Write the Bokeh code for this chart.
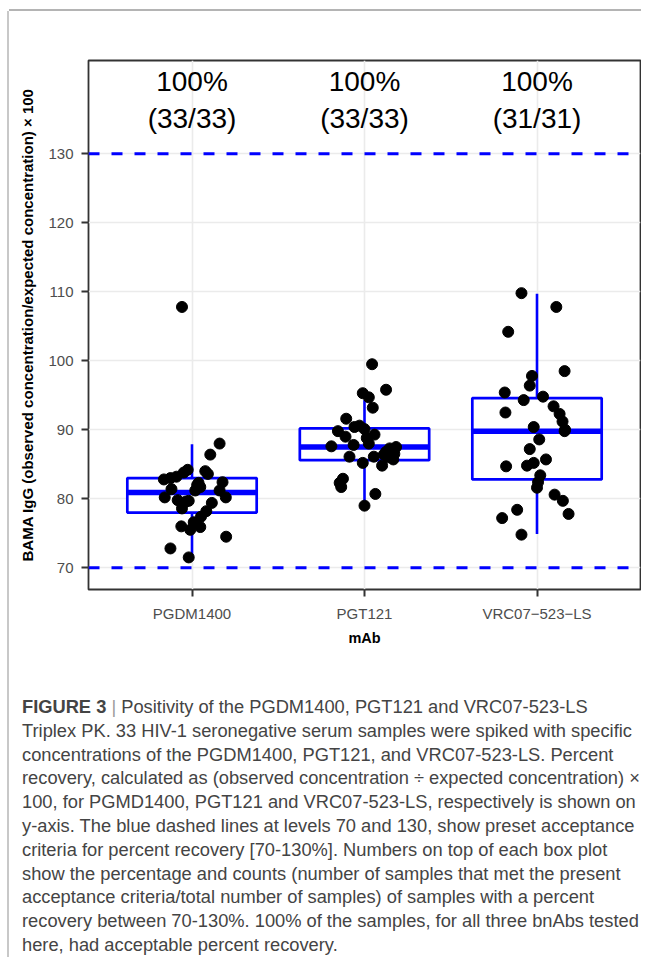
import numpy as np
from bokeh.plotting import figure
from bokeh.models import Range1d, Span, Div, FixedTicker, ColumnDataSource
from bokeh.layouts import column
from bokeh.core.properties import value
from bokeh.embed import file_html
from bokeh.resources import INLINE

# ---------------- data ----------------
categories = ["PGDM1400", "PGT121", "VRC07\u2212523\u2212LS"]

pgdm_values = [107.8, 88.0, 86.4, 84.2, 83.8, 83.2, 83.0, 82.8, 84.0, 83.6, 82.4,
               82.3, 81.7, 81.4, 81.2, 81.2, 80.2, 80.2, 79.8, 79.7, 79.4, 78.6,
               78.2, 77.4, 76.6, 76.0, 75.5, 75.9, 74.5, 72.8, 71.5, 82.0, 79.6]
pgdm_jitter = [-0.058, 0.160, 0.106, -0.025, -0.048, -0.090, -0.125, -0.163, 0.077, 0.092, 0.177,
               0.038, 0.048, -0.119, 0.019, 0.160, -0.158, 0.196, -0.083, -0.019, 0.115, -0.058,
               0.083, 0.052, 0.010, -0.062, -0.010, 0.048, 0.198, -0.125, -0.019, 0.030, -0.035]

pgt_values = [99.5, 95.8, 95.3, 94.7, 93.2, 91.6, 89.8, 90.4, 90.6, 90.1, 89.3,
              89.0, 88.8, 88.0, 87.8, 87.6, 87.5, 87.1, 86.8, 86.5, 86.0, 86.1,
              86.1, 85.7, 85.2, 84.8, 82.9, 82.3, 81.7, 80.7, 79.0, 87.3, 86.4]
pgt_jitter = [0.044, 0.125, -0.010, 0.025, 0.048, -0.106, -0.154, -0.058, -0.029, 0.000, 0.058,
              -0.110, 0.013, 0.025, -0.063, -0.192, 0.183, 0.154, 0.125, 0.173, 0.135, -0.087,
              0.054, 0.167, -0.010, 0.102, -0.125, -0.144, -0.135, 0.063, 0.000, 0.146, 0.112]

vrc_values = [109.8, 107.8, 104.2, 98.5, 97.8, 96.4, 95.4, 94.3, 94.8, 93.4, 92.3,
              92.5, 91.2, 90.0, 90.4, 88.6, 87.2, 85.7, 84.7, 84.8, 85.2, 83.4,
              82.4, 81.6, 80.6, 79.7, 77.8, 77.2, 78.4, 74.8, 89.8]
vrc_jitter = [-0.090, 0.112, -0.167, 0.160, -0.029, -0.042, -0.187, -0.077, 0.035, 0.096, 0.131,
              -0.183, 0.148, 0.163, -0.019, 0.013, -0.042, 0.052, -0.179, -0.058, -0.019, 0.019,
              0.006, 0.000, 0.102, 0.150, 0.183, -0.202, -0.115, -0.090, 0.160]

box_q1 = [78.0, 85.6, 82.8]
box_median = [80.9, 87.5, 89.8]
box_q3 = [83.0, 90.2, 94.6]
whisker_low = [71.5, 79.0, 74.9]
whisker_high = [87.9, 94.3, 109.7]

pct_labels = ["100%", "100%", "100%"]
count_labels = ["(33/33)", "(33/33)", "(31/31)"]
acceptance_limits = [70, 130]

caption_lines = [
    "<b>FIGURE 3</b> <span style='color:#9a9a9a'>|</span> Positivity of the PGDM1400, PGT121 and VRC07-523-LS",
    "Triplex PK. 33 HIV-1 seronegative serum samples were spiked with specific",
    "concentrations of the PGDM1400, PGT121, and VRC07-523-LS. Percent",
    "recovery, calculated as (observed concentration \u00f7 expected concentration) \u00d7",
    "100, for PGMD1400, PGT121 and VRC07-523-LS, respectively is shown on",
    "y-axis. The blue dashed lines at levels 70 and 130, show preset acceptance",
    "criteria for percent recovery [70-130%]. Numbers on top of each box plot",
    "show the percentage and counts (number of samples that met the present",
    "acceptance criteria/total number of samples) of samples with a percent",
    "recovery between 70-130%. 100% of the samples, for all three bnAbs tested",
    "here, had acceptable percent recovery.",
]

# ---------------- layout / style ----------------
FONT = "Liberation Sans"
BLUE = "#0000ff"
box_width = 0.75
label_y_top = 140.5
label_y_bottom = 135.1

xs = np.arange(1, len(categories) + 1)

p = figure(width=632, height=684, output_backend="svg", toolbar_location=None,
           title=None, x_range=Range1d(0.4, 3.6), y_range=Range1d(66.85, 143.52),
           min_border_left=79, min_border_right=1, min_border_top=49,
           min_border_bottom=106)

p.background_fill_color = "white"
p.border_fill_color = "white"
p.outline_line_color = "#333333"
p.outline_line_width = 1.8

# axes
p.xaxis.ticker = FixedTicker(ticks=list(xs))
p.xaxis.major_label_overrides = {int(i): c for i, c in zip(xs, categories)}
p.yaxis.ticker = FixedTicker(ticks=[70, 80, 90, 100, 110, 120, 130])
for ax in (p.xaxis, p.yaxis):
    ax.axis_line_color = None
    ax.major_tick_line_color = "#333333"
    ax.major_tick_line_width = 2
    ax.major_tick_out = 7
    ax.major_tick_in = 0
    ax.minor_tick_line_color = None
    ax.major_label_text_font = FONT
    ax.major_label_text_font_size = "15px"
    ax.major_label_text_color = "#4d4d4d"
    ax.axis_label_text_font = FONT
    ax.axis_label_text_font_style = "bold"
    ax.axis_label_text_color = "black"
p.xaxis.axis_label = "mAb"
p.xaxis.axis_label_text_font_size = "14.5px"
p.xaxis.major_label_standoff = 8
p.xaxis.axis_label_standoff = 5
p.yaxis.axis_label = "BAMA IgG (observed concentration/expected concentration) \u00d7 100"
p.yaxis.axis_label_text_font_size = "15px"
p.yaxis.major_label_standoff = 8
p.yaxis.axis_label_standoff = 9

p.grid.grid_line_color = "#ebebeb"
p.grid.grid_line_width = 1.6

# boxes
box_src = ColumnDataSource(dict(
    x=xs, q1=box_q1, q3=box_q3, med=box_median, lo=whisker_low, hi=whisker_high,
    left=xs - box_width / 2, right=xs + box_width / 2))
p.segment(x0="x", y0="q3", x1="x", y1="hi", source=box_src, line_color=BLUE, line_width=2.6)
p.segment(x0="x", y0="q1", x1="x", y1="lo", source=box_src, line_color=BLUE, line_width=2.6)
p.vbar(x="x", width=box_width, bottom="q1", top="q3", source=box_src,
       fill_color="white", line_color=BLUE, line_width=2.7)
p.segment(x0="left", y0="med", x1="right", y1="med", source=box_src,
          line_color=BLUE, line_width=5.5)

# points
pt_x = np.concatenate([xs[0] + np.array(pgdm_jitter), xs[1] + np.array(pgt_jitter),
                       xs[2] + np.array(vrc_jitter)])
pt_y = np.concatenate([pgdm_values, pgt_values, vrc_values])
p.scatter(x=pt_x, y=pt_y, size=11, fill_color="black", line_color="black")

# acceptance limits
for lim in acceptance_limits:
    p.add_layout(Span(location=lim, dimension="width", line_color=BLUE,
                      line_dash="11 12", line_width=3))

# labels on top
p.text(x=xs, y=[label_y_top] * len(xs), text=pct_labels, text_font=value(FONT),
       text_font_size="28px", text_align="center", text_baseline="middle", text_color="black")
p.text(x=xs, y=[label_y_bottom] * len(xs), text=count_labels, text_font=value(FONT),
       text_font_size="28px", text_align="center", text_baseline="middle", text_color="black")

caption_html = (
    "<div style=\"font-family:'Liberation Sans',Arial,sans-serif;font-size:18.3px;"
    "line-height:23.8px;color:#444444;padding-left:13px;white-space:nowrap;\">"
    + "<br>".join(caption_lines) + "</div>"
)
caption = Div(text=caption_html, width=632, height=262, margin=0)

layout = column(p, caption, spacing=0, margin=(11, 0, 0, 9),
                styles={"box-shadow": "-2px 0 0 0 #c8c8c8, 0 -2px 0 0 #b4b4b4"})

open("out.html", "w").write(file_html(layout, INLINE))
